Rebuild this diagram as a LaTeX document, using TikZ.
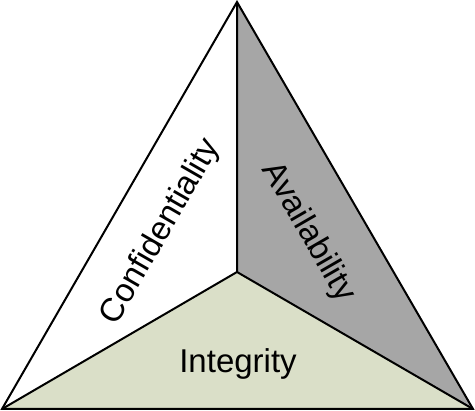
\documentclass[tikz,border=0pt]{standalone}
\usepackage{fontspec}
\setmainfont{Liberation Sans}
\begin{document}
\begin{tikzpicture}[x=1pt,y=-1pt,
  edge/.style={draw=black,line width=2pt,line join=miter},
  lbl/.style={font=\fontsize{33}{36}\selectfont,inner sep=0pt}]
\useasboundingbox (0,0) rectangle (475,411);
\coordinate (T) at (237,2);
\coordinate (L) at (2,409);
\coordinate (R) at (473,409);
\coordinate (C) at (237,272);
\fill[white] (T) -- (C) -- (L) -- cycle;
\fill[fill={rgb,255:red,166;green,166;blue,166}] (T) -- (R) -- (C) -- cycle;
\fill[fill={rgb,255:red,218;green,223;blue,200}] (L) -- (C) -- (R) -- cycle;
\draw[edge] (T) -- (R) -- (L) -- cycle;
\draw[edge] (T) -- (C) (L) -- (C) -- (R);
\node[lbl,rotate=60] (conf) at (161,232) {Confidentiality};
\node[lbl,rotate=-60] (avail) at (308,232) {Availability};
\node[lbl] (integ) at (238,364) {Integrity};
\end{tikzpicture}
\end{document}
